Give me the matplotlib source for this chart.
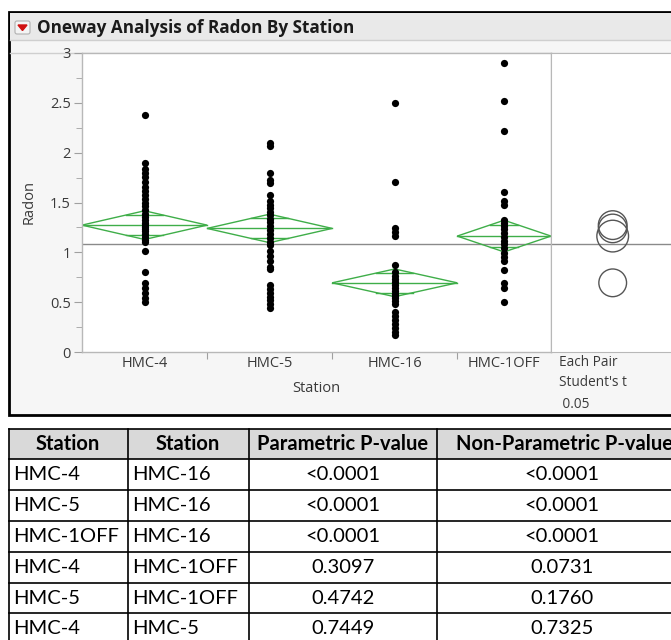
import numpy as np
import matplotlib
matplotlib.use("Agg")
import matplotlib.pyplot as plt
from matplotlib.patches import Rectangle, Polygon, FancyBboxPatch

# data
stations = ["HMC-4", "HMC-5", "HMC-16", "HMC-1OFF"]
group_n = [40, 40, 40, 30]   # x-axis segment widths follow group size

radon_hmc4 = [2.38, 1.90, 1.84, 1.80, 1.76, 1.71, 1.66, 1.62, 1.58, 1.54, 1.50, 1.46,
              1.42, 1.38, 1.35, 1.32, 1.29, 1.27, 1.25, 1.23, 1.21, 1.18, 1.15, 1.12,
              1.10, 1.01, 0.80, 0.69, 0.64, 0.59, 0.54, 0.50]
radon_hmc5 = [2.10, 2.07, 1.80, 1.73, 1.70, 1.58, 1.52, 1.47, 1.44, 1.40, 1.37, 1.33,
              1.30, 1.26, 1.22, 1.18, 1.14, 1.10, 1.07, 1.01, 0.96, 0.91, 0.85, 0.83,
              0.67, 0.63, 0.59, 0.55, 0.52, 0.48, 0.44]
radon_hmc16 = [2.50, 1.71, 1.24, 1.20, 1.16, 0.87, 0.80, 0.76, 0.73, 0.70, 0.67, 0.64,
               0.61, 0.58, 0.56, 0.54, 0.51, 0.48, 0.40, 0.36, 0.32, 0.28, 0.24, 0.20, 0.17]
radon_hmc1off = [2.90, 2.52, 2.22, 1.61, 1.52, 1.47, 1.32, 1.29, 1.26, 1.23, 1.19, 1.15,
                 1.11, 1.08, 1.04, 0.99, 0.95, 0.91, 0.82, 0.69, 0.64, 0.50]
radon = [radon_hmc4, radon_hmc5, radon_hmc16, radon_hmc1off]

group_means = [1.273, 1.240, 0.694, 1.163]
ci_half = [0.144, 0.143, 0.139, 0.159]
grand_mean = 1.082

tbl_station_a = ["HMC-4", "HMC-5", "HMC-1OFF", "HMC-4", "HMC-5", "HMC-4"]
tbl_station_b = ["HMC-16", "HMC-16", "HMC-16", "HMC-1OFF", "HMC-1OFF", "HMC-5"]
tbl_param_p = ["<0.0001", "<0.0001", "<0.0001", "0.3097", "0.4742", "0.7449"]
tbl_nonparam_p = ["<0.0001", "<0.0001", "<0.0001", "0.0731", "0.1760", "0.7325"]
tbl_header = ["Station", "Station", "Parametric P-value", "Non-Parametric P-value"]

W, H, DPI = 671, 640, 100
fig = plt.figure(figsize=(W / DPI, H / DPI), dpi=DPI)
fig.patch.set_facecolor("white")

# background layer in pixel units
bg = fig.add_axes([0, 0, 1, 1])
bg.set_xlim(0, W)
bg.set_ylim(H, 0)
bg.axis("off")

chart_font = "Open Sans"
table_font = "Lato"
text_col = "#3a3a3a"

# report panel
bg.add_patch(Rectangle((9, 12), 700, 403, facecolor="#f6f6f6", edgecolor="black", lw=2))
bg.add_patch(Rectangle((10, 13), 700, 27, facecolor="#e9e9e9", edgecolor="none"))
bg.plot([10, 700], [40, 40], color="#cfcfcf", lw=1)
bg.plot([10, 700], [53, 53], color="#cfcfcf", lw=1)
bg.add_patch(FancyBboxPatch((15, 21), 15, 13, boxstyle="round,pad=0,rounding_size=2",
                            facecolor="#f4f4f4", edgecolor="#b0b0b0", lw=0.8))
bg.add_patch(Polygon([(18, 25), (27, 25), (22.5, 30.5)], closed=True, color="#d01010"))
bg.text(37, 28, "Oneway Analysis of Radon By Station", fontsize=12.3, fontweight="bold",
        family=chart_font, color="#1a1a1a", va="center", ha="left")

# main plot axes
left_px, right_px, top_px, bot_px = 82, 551, 53, 352
ax = fig.add_axes([left_px / W, 1 - bot_px / H, (right_px - left_px) / W, (bot_px - top_px) / H])
ax.set_facecolor("white")

edges = np.concatenate([[0], np.cumsum(group_n)])
centers = (edges[:-1] + edges[1:]) / 2
green = "#3fae49"

for i in range(len(stations)):
    xl, xr, xc = edges[i], edges[i + 1], centers[i]
    m, c = group_means[i], ci_half[i]
    ax.add_patch(Polygon([(xl, m), (xc, m + c), (xr, m), (xc, m - c)], closed=True,
                         fill=False, edgecolor=green, lw=1, zorder=2))
    ax.plot([xl, xr], [m, m], color=green, lw=1, zorder=2)
    k = np.sqrt(2) / 2
    half_w = (xr - xl) / 2 * (1 - k)
    for s in (1, -1):
        ax.plot([xc - half_w, xc + half_w], [m + s * c * k] * 2, color=green, lw=1, zorder=2)
    ax.scatter([xc] * len(radon[i]), radon[i], s=27, color="black", zorder=3, linewidths=0)

ax.axhline(grand_mean, color="#8a8a8a", lw=1, zorder=1)
ax.set_xlim(edges[0], edges[-1])
ax.set_ylim(0, 3)
ax.set_yticks(np.arange(0, 3.01, 0.5))
ax.set_yticklabels(["0", "0.5", "1", "1.5", "2", "2.5", "3"])
ax.set_yticks(np.arange(0.25, 3, 0.5), minor=True)
ax.set_xticks(edges[1:-1])
ax.set_xticklabels([])
ax.set_xticks(centers, minor=True)
ax.set_xticklabels(stations, minor=True)
ax.tick_params(axis="x", which="major", length=5, color="#a0a0a0")
ax.tick_params(axis="x", which="minor", length=0, pad=3, labelsize=10.5, labelcolor=text_col)
ax.tick_params(axis="y", which="major", length=6, color="#a0a0a0", labelsize=10.5,
               labelcolor=text_col, pad=2)
ax.tick_params(axis="y", which="minor", length=4, color="#a0a0a0")
for lab in ax.get_xticklabels(minor=True) + ax.get_yticklabels():
    lab.set_family(chart_font)
for sp in ax.spines.values():
    sp.set_color("#b8b8b8")
    sp.set_linewidth(1)
ax.set_ylabel("Radon", fontsize=10.5, family=chart_font, color=text_col, labelpad=10)
ax.set_xlabel("Station", fontsize=10.5, family=chart_font, color=text_col, labelpad=7)

# comparison circles panel
side_w = 2 * (612.7 - right_px)
side = fig.add_axes([right_px / W, 1 - bot_px / H, side_w / W, (bot_px - top_px) / H])
side.set_facecolor("white")
side.set_xlim(0, 1)
side.set_ylim(0, 3)
side.set_xticks([])
side.set_yticks([])
for sp in side.spines.values():
    sp.set_color("#b8b8b8")
side.axhline(grand_mean, color="#8a8a8a", lw=1, zorder=1)
px_per_unit = (bot_px - top_px) / 3
for m, c in zip(group_means, ci_half):
    diam_pt = 2 * c * px_per_unit * 72 / DPI
    side.scatter([0.5], [m], s=diam_pt ** 2, facecolors="none", edgecolors="#555555",
                 linewidths=1, zorder=2)

for y, t in zip([362, 383, 404], ["Each Pair", "Student's t", " 0.05"]):
    bg.text(559, y, t, fontsize=9.8, family=chart_font, color=text_col, va="center", ha="left")

# comparison table
col_x = [9, 128, 249, 437, 720]
row_y = [429, 459, 490, 521, 552, 583, 613, 645]
bg.add_patch(Rectangle((col_x[0], row_y[0]), col_x[-1] - col_x[0], row_y[1] - row_y[0],
                       facecolor="#d9d9d9", edgecolor="none"))
for x in col_x[:-1]:
    bg.plot([x, x], [row_y[0], row_y[-1]], color="black", lw=1.2)
for y in row_y[:-1]:
    bg.plot([col_x[0], col_x[-1]], [y, y], color="black", lw=1.2)

head_x = [68, 188, 343, 564]
for j, t in enumerate(tbl_header):
    bg.text(head_x[j], (row_y[0] + row_y[1]) / 2, t, fontsize=14.5, fontweight="bold",
            family=table_font, color="black", ha="center", va="center")

for r in range(len(tbl_station_a)):
    yc = (row_y[r + 1] + row_y[r + 2]) / 2
    bg.text(col_x[0] + 4, yc, tbl_station_a[r], fontsize=14.5, family=table_font,
            ha="left", va="center")
    bg.text(col_x[1] + 4, yc, tbl_station_b[r], fontsize=14.5, family=table_font,
            ha="left", va="center")
    bg.text(343, yc, tbl_param_p[r], fontsize=14.5, family=table_font, ha="center", va="center")
    bg.text(562, yc, tbl_nonparam_p[r], fontsize=14.5, family=table_font, ha="center", va="center")

fig.savefig("out.png", dpi=DPI)
